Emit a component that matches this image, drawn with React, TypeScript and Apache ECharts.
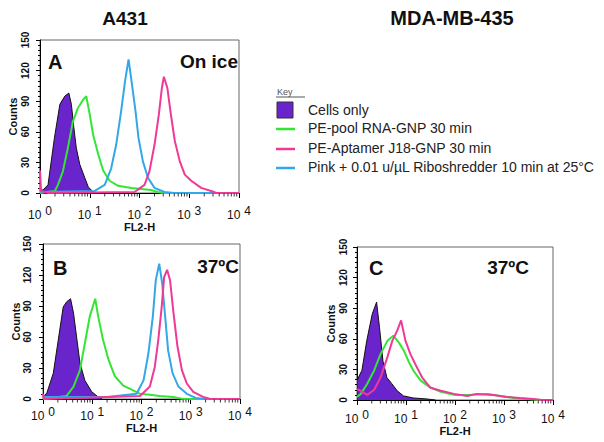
import React, { useEffect, useRef } from 'react';
import * as echarts from 'echarts';

// ---------- data (FL2-H value, counts) ----------
const seriesNames = [
  'Cells only',
  'PE-pool RNA-GNP 30 min',
  'PE-Aptamer J18-GNP 30 min',
  'Pink + 0.01 u/µL Riboshredder 10 min at 25°C',
];
const seriesColors = ['#6a24cc', '#33e633', '#ee3a96', '#33a8e8'];

const yTicks = [0, 30, 60, 90, 120, 150];
const xMin = 1;
const xMax = 10000;
const minorTickValues = [
  2, 3, 4, 5, 6, 7, 8, 9,
  20, 30, 40, 50, 60, 70, 80, 90,
  200, 300, 400, 500, 600, 700, 800, 900,
  2000, 3000, 4000, 5000, 6000, 7000, 8000, 9000,
];

const aCells = [[1, 45], [1.02, 3], [1.15, 3], [1.45, 8], [1.95, 54], [2.51, 87], [3.16, 95], [3.8, 98], [4.27, 87], [4.79, 64], [5.37, 44], [6.31, 28], [7.94, 15], [9.33, 6], [11.7, 1], [13, 0]];
const aPool = [[1, 0], [2, 2], [2.29, 8], [2.88, 21], [3.63, 44], [4.57, 70], [5.75, 83], [7.24, 91], [8.51, 95], [10, 77], [11.7, 57], [14.8, 38], [18.6, 22], [25.1, 12], [37.2, 7], [69.2, 5], [170, 3], [234, 1], [300, 0], [10000, 0]];
const aAptamer = [[1, 22], [1.05, 2], [1.5, 0], [79.4, 1], [126, 8], [158, 21], [200, 47], [245, 77], [282, 103], [309, 114], [363, 103], [427, 77], [513, 51], [646, 31], [813, 18], [1096, 12], [1738, 5], [2754, 2], [3500, 0], [10000, 0]];
const aShredder = [[1, 5], [1.05, 1], [12.6, 2], [20, 8], [26.9, 24], [33.9, 47], [42.7, 80], [51.3, 110], [60.3, 131], [70.8, 106], [83.2, 80], [95.5, 54], [117, 31], [148, 15], [200, 5], [316, 1], [500, 0], [10000, 0]];

const bCells = [[1, 46], [1.03, 2], [1.2, 6], [1.62, 25], [2.04, 57], [2.57, 89], [3.02, 94], [3.63, 97], [4.17, 83], [4.9, 57], [5.62, 35], [7.08, 18], [9.77, 7], [13.2, 2], [16, 0]];
const bPool = [[1, 0], [3.02, 3], [4.17, 12], [5.62, 28], [7.08, 54], [8.91, 80], [11.5, 97], [13.2, 80], [16.6, 57], [21.4, 38], [28.8, 22], [42.7, 13], [63.1, 9], [93.3, 5], [148, 4], [234, 3], [437, 2], [700, 0], [10000, 0]];
const bAptamer = [[1, 5], [1.05, 0], [93.3, 3], [148, 12], [186, 31], [219, 57], [257, 89], [288, 118], [331, 125], [380, 115], [447, 83], [537, 51], [661, 28], [832, 15], [1122, 7], [1778, 2], [2500, 0], [10000, 0]];
const bShredder = [[1, 2], [20, 2], [79.4, 5], [110, 18], [138, 44], [170, 80], [195, 115], [229, 131], [263, 112], [302, 80], [347, 47], [427, 25], [562, 12], [832, 5], [1259, 1], [2000, 0], [10000, 0]];

const cCells = [[1, 83], [1.02, 20], [1.26, 29], [1.58, 58], [2.04, 84], [2.51, 96], [2.88, 71], [3.39, 38], [4.07, 22], [5.13, 16], [6.61, 9], [8.91, 4], [14.1, 2], [26.9, 1], [40, 0]];
const cPool = [[1, 3], [1.2, 6], [1.62, 16], [2.24, 29], [3.02, 45], [4.17, 58], [5.5, 63], [7.24, 56], [9.12, 48], [11.5, 37], [14.5, 28], [20, 19], [29.5, 13], [51.3, 8], [95.5, 5], [178, 5], [457, 6], [851, 4], [1585, 2], [3020, 1], [5000, 0], [10000, 0]];
const cAptamer = [[1, 10], [1.1, 10], [1.62, 5], [2.24, 10], [3.02, 22], [4.17, 42], [5.25, 58], [6.61, 68], [7.94, 78], [9.77, 58], [12.3, 45], [15.5, 35], [21.4, 22], [31.6, 12], [51.3, 9], [95.5, 6], [178, 4], [275, 6], [603, 5], [1122, 3], [2089, 2], [3981, 1], [6000, 0], [10000, 0]];

const panelLetters = ['A', 'B', 'C'];
const panelConditions = ['On ice', '37ºC', '37ºC'];
const columnTitles = ['A431', 'MDA-MB-435'];

const panelData = [
  [aCells, aPool, aAptamer, aShredder],
  [bCells, bPool, bAptamer, bShredder],
  [cCells, cPool, cAptamer, null],
];

// ---------- layout ----------
const grids = [
  { left: 40, top: 40, width: 199, height: 153, labelMargin: 12, nameGap: 23, yLabelMargin: 10, yNameGap: 22 },
  { left: 43, top: 244, width: 197, height: 155, labelMargin: 7, nameGap: 13, yLabelMargin: 11, yNameGap: 22 },
  { left: 357, top: 247, width: 196, height: 153, labelMargin: 9, nameGap: 24, yLabelMargin: 9, yNameGap: 21 },
];
const FONT = 'Arial, "Liberation Sans", Helvetica, sans-serif';

export default function App() {
  const ref = useRef<HTMLDivElement>(null);

  useEffect(() => {
    if (!ref.current) return;
    const chart = echarts.init(ref.current, undefined, { renderer: 'svg' });

    const series: any[] = [];
    panelData.forEach((sets, gi) => {
      const [cells, pool, aptamer, shredder] = sets;
      series.push({
        type: 'line', name: seriesNames[0], data: cells, xAxisIndex: gi, yAxisIndex: gi,
        symbol: 'none', lineStyle: { color: '#111', width: 1 },
        areaStyle: { color: seriesColors[0], opacity: 1 }, itemStyle: { color: seriesColors[0] }, z: 2,
      });
      series.push({
        type: 'line', name: seriesNames[1], data: pool, xAxisIndex: gi, yAxisIndex: gi,
        symbol: 'none', lineStyle: { color: seriesColors[1], width: 2 }, itemStyle: { color: seriesColors[1] }, z: 3,
      });
      if (shredder) {
        series.push({
          type: 'line', name: seriesNames[3], data: shredder, xAxisIndex: gi, yAxisIndex: gi,
          symbol: 'none', lineStyle: { color: seriesColors[3], width: 2 }, itemStyle: { color: seriesColors[3] }, z: 4,
        });
      }
      series.push({
        type: 'line', name: seriesNames[2], data: aptamer, xAxisIndex: gi, yAxisIndex: gi,
        symbol: 'none', lineStyle: { color: seriesColors[2], width: 2 }, itemStyle: { color: seriesColors[2] }, z: 5,
      });
      // log minor ticks on the x axis
      series.push({
        type: 'scatter', data: minorTickValues.map((v) => [v, 0]), xAxisIndex: gi, yAxisIndex: gi,
        symbol: 'rect', symbolSize: [1, 3], symbolOffset: [0, 2], itemStyle: { color: '#000' },
        silent: true, clip: false, z: 6,
      });
    });

    const option: any = {
      animation: false,
      backgroundColor: '#fff',
      grid: grids.map((g) => ({
        left: g.left, top: g.top, width: g.width, height: g.height,
        show: true, borderColor: '#666', borderWidth: 1, backgroundColor: 'transparent',
        containLabel: false, outerBoundsMode: 'none',
      })),
      xAxis: grids.map((g, i) => ({
        type: 'log', logBase: 10, min: xMin, max: xMax, gridIndex: i,
        name: 'FL2-H', nameLocation: 'middle', nameGap: g.nameGap,
        nameTextStyle: { fontFamily: FONT, fontSize: 11, fontWeight: 'bold', color: '#111' },
        axisLine: { show: true, lineStyle: { color: '#000', width: 1 } },
        axisTick: { show: true, length: 5, lineStyle: { color: '#000' } },
        splitLine: { show: false },
        minorTick: { show: false },
        axisLabel: {
          margin: g.labelMargin,
          fontFamily: FONT,
          formatter: (v: number) => `{b|10}{e|${Math.round(Math.log10(v))}}`,
          rich: {
            b: { fontSize: 12, color: '#111', fontFamily: FONT },
            e: { fontSize: 12, color: '#111', fontFamily: FONT, padding: [0, 0, 8, 4] },
          },
        },
      })),
      yAxis: grids.map((g, i) => ({
        type: 'value', min: yTicks[0], max: yTicks[yTicks.length - 1], interval: 30, gridIndex: i,
        name: 'Counts', nameLocation: 'middle', nameGap: g.yNameGap,
        nameTextStyle: { fontFamily: FONT, fontSize: 11, fontWeight: 'bold', color: '#111' },
        axisLine: { show: true, lineStyle: { color: '#000', width: 1 } },
        axisTick: { show: true, length: 4, lineStyle: { color: '#000' } },
        minorTick: { show: true, splitNumber: 6, length: 2, lineStyle: { color: '#000' } },
        splitLine: { show: false },
        axisLabel: {
          rotate: 90, margin: g.yLabelMargin,
          fontFamily: FONT, fontSize: 10, fontWeight: 'bold', color: '#111',
        },
      })),
      series,
      graphic: [
        { type: 'text', x: 125, y: 18, style: { text: columnTitles[0], font: `bold 19px ${FONT}`, fill: '#111', textAlign: 'center', textVerticalAlign: 'middle' } },
        { type: 'text', x: 452, y: 18, style: { text: columnTitles[1], font: `bold 20px ${FONT}`, fill: '#111', textAlign: 'center', textVerticalAlign: 'middle' } },
        { type: 'text', x: 48, y: 62, style: { text: panelLetters[0], font: `bold 20px ${FONT}`, fill: '#111', textVerticalAlign: 'middle' } },
        { type: 'text', x: 238, y: 61, style: { text: panelConditions[0], font: `bold 19px ${FONT}`, fill: '#111', textAlign: 'right', textVerticalAlign: 'middle' } },
        { type: 'text', x: 53, y: 268, style: { text: panelLetters[1], font: `bold 20px ${FONT}`, fill: '#111', textVerticalAlign: 'middle' } },
        { type: 'text', x: 239, y: 266, style: { text: panelConditions[1], font: `bold 19px ${FONT}`, fill: '#111', textAlign: 'right', textVerticalAlign: 'middle' } },
        { type: 'text', x: 369, y: 268, style: { text: panelLetters[2], font: `bold 20px ${FONT}`, fill: '#111', textVerticalAlign: 'middle' } },
        { type: 'text', x: 529, y: 267, style: { text: panelConditions[2], font: `bold 19px ${FONT}`, fill: '#111', textAlign: 'right', textVerticalAlign: 'middle' } },
        // Key
        { type: 'text', x: 277, y: 92, style: { text: 'Key', font: `9px ${FONT}`, fill: '#555', textVerticalAlign: 'middle' } },
        { type: 'line', shape: { x1: 276, y1: 97, x2: 305, y2: 97 }, style: { stroke: '#555', lineWidth: 1 } },
        { type: 'rect', shape: { x: 277, y: 102, width: 16, height: 16 }, style: { fill: seriesColors[0], stroke: '#333', lineWidth: 1 } },
        { type: 'line', shape: { x1: 276, y1: 129, x2: 295, y2: 129 }, style: { stroke: seriesColors[1], lineWidth: 2.5 } },
        { type: 'line', shape: { x1: 276, y1: 149, x2: 295, y2: 149 }, style: { stroke: seriesColors[2], lineWidth: 2.5 } },
        { type: 'line', shape: { x1: 276, y1: 168, x2: 295, y2: 168 }, style: { stroke: seriesColors[3], lineWidth: 2.5 } },
        { type: 'text', x: 308, y: 110, style: { text: seriesNames[0], font: `14px ${FONT}`, fill: '#222', textVerticalAlign: 'middle' } },
        { type: 'text', x: 308, y: 128, style: { text: seriesNames[1], font: `14px ${FONT}`, fill: '#222', textVerticalAlign: 'middle' } },
        { type: 'text', x: 308, y: 148, style: { text: seriesNames[2], font: `14px ${FONT}`, fill: '#222', textVerticalAlign: 'middle' } },
        { type: 'text', x: 308, y: 167, style: { text: seriesNames[3], font: `14px ${FONT}`, fill: '#222', textVerticalAlign: 'middle' } },
      ],
    };

    chart.setOption(option);
    return () => chart.dispose();
  }, []);

  return (
    <div
      ref={ref}
      style={{ position: 'fixed', left: 0, top: 0, width: 604, height: 442, background: '#fff' }}
    />
  );
}
